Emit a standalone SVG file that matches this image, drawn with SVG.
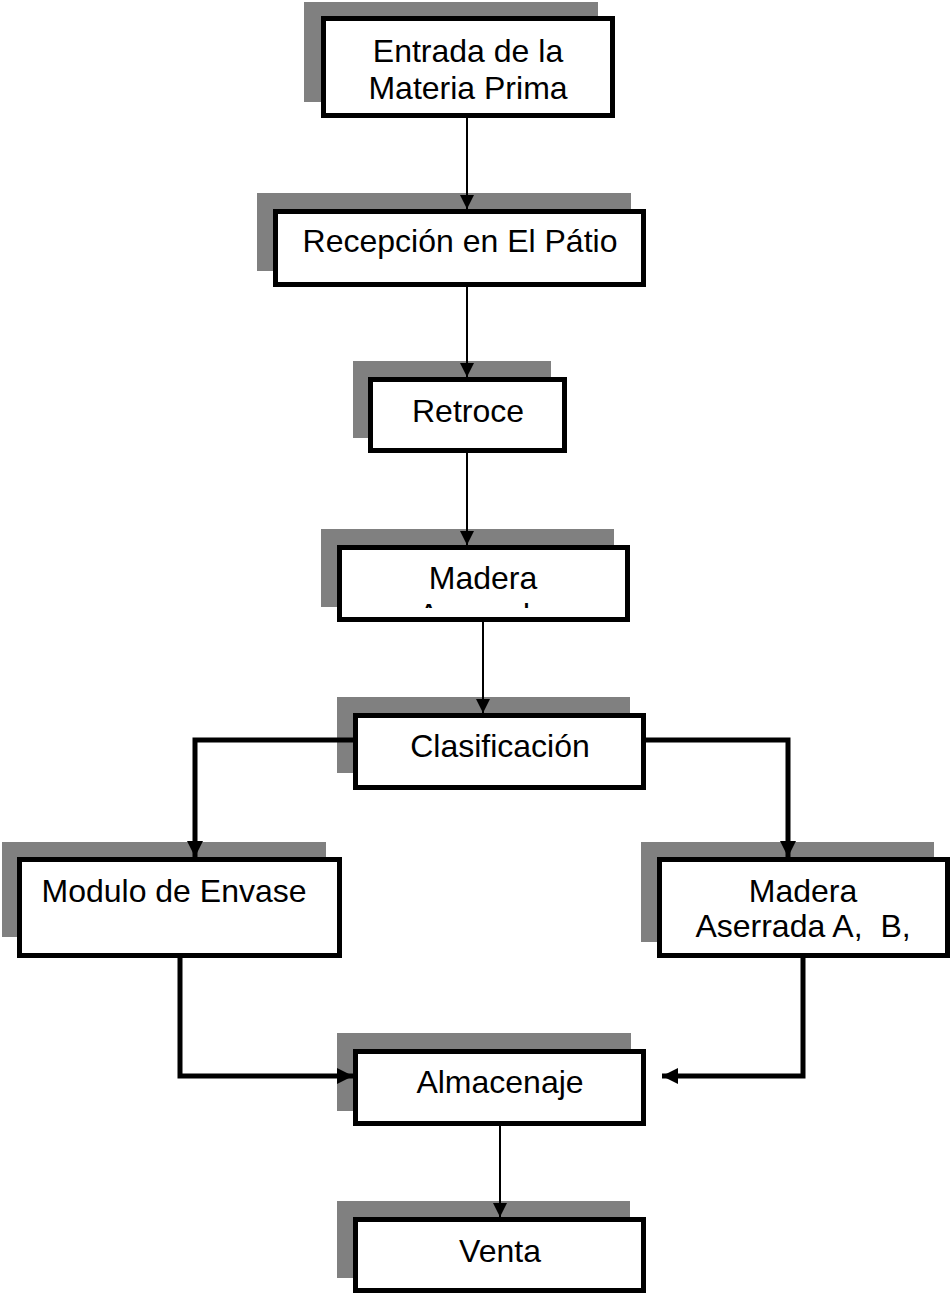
<svg xmlns="http://www.w3.org/2000/svg" width="951" height="1293" viewBox="0 0 951 1293">
<style>
.sh{fill:#808080}
.bx{fill:#fff;stroke:#000;stroke-width:5}
.t{font-family:"Liberation Sans",Arial,sans-serif;font-size:32px;fill:#000;text-anchor:middle}
.thin{fill:none;stroke:#000;stroke-width:2}
.thick{fill:none;stroke:#000;stroke-width:5}
</style>
<defs>
<marker id="a1" markerUnits="userSpaceOnUse" markerWidth="14" markerHeight="15" refX="14" refY="7" orient="auto"><path d="M0,0 L14,7 L0,14 Z" fill="#000"/></marker>
<marker id="a2" markerUnits="userSpaceOnUse" markerWidth="16" markerHeight="17" refX="16" refY="8" orient="auto"><path d="M0,0 L16,8 L0,16 Z" fill="#000"/></marker>
<clipPath id="c4"><rect x="337" y="545" width="293" height="63"/></clipPath>
</defs>
<g id="n1">
<rect class="sh" x="304" y="2" width="294" height="100"/>
<rect class="bx" x="323.5" y="18.5" width="289" height="97"/>
<text class="t" x="468" y="62">Entrada de la</text>
<text class="t" x="468" y="99">Materia Prima</text>
</g>
<g id="n2">
<rect class="sh" x="257" y="193" width="374" height="78"/>
<rect class="bx" x="275.5" y="211.5" width="368" height="73"/>
<text class="t" x="460" y="252">Recepción en El Pátio</text>
</g>
<g id="n3">
<rect class="sh" x="353" y="361" width="198" height="77"/>
<rect class="bx" x="370.5" y="379.5" width="194" height="71"/>
<text class="t" x="468" y="422">Retroce</text>
</g>
<g id="n4">
<rect class="sh" x="321" y="529" width="293" height="78"/>
<rect class="bx" x="339.5" y="547.5" width="288" height="72"/>
<text class="t" x="483" y="589">Madera</text>
<text class="t" x="483" y="626" clip-path="url(#c4)">Aserrada</text>
</g>
<g id="n5">
<rect class="sh" x="337" y="697" width="293" height="76"/>
<rect class="bx" x="355.5" y="715.5" width="288" height="72"/>
<text class="t" x="500" y="757">Clasificación</text>
</g>
<g id="n6">
<rect class="sh" x="2" y="842" width="324" height="95"/>
<rect class="bx" x="19.5" y="859.5" width="320" height="96"/>
<text class="t" x="174" y="902">Modulo de Envase</text>
</g>
<g id="n7">
<rect class="sh" x="641" y="842" width="293" height="100"/>
<rect class="bx" x="659.5" y="859.5" width="288" height="96"/>
<text class="t" x="803" y="902">Madera</text>
<text class="t" x="803" y="937" xml:space="preserve">Aserrada A,  B,</text>
</g>
<g id="n8">
<rect class="sh" x="337" y="1033" width="294" height="78"/>
<rect class="bx" x="355.5" y="1051.5" width="288" height="72"/>
<text class="t" x="500" y="1093">Almacenaje</text>
</g>
<g id="n9">
<rect class="sh" x="337" y="1201" width="293" height="77"/>
<rect class="bx" x="355.5" y="1219.5" width="288" height="71"/>
<text class="t" x="500" y="1262">Venta</text>
</g>
<g id="connectors">
<path class="thin" d="M467,118 V209" marker-end="url(#a1)"/>
<path class="thin" d="M467,287 V377" marker-end="url(#a1)"/>
<path class="thin" d="M467,453 V545" marker-end="url(#a1)"/>
<path class="thin" d="M483,622 V713" marker-end="url(#a1)"/>
<path class="thick" d="M353,740 H195 V857" marker-end="url(#a2)"/>
<path class="thick" d="M646,740 H788 V857" marker-end="url(#a2)"/>
<path class="thick" d="M180,958 V1076 H353" marker-end="url(#a2)"/>
<path class="thick" d="M803,958 V1076 H662" marker-end="url(#a2)"/>
<path class="thin" d="M500,1126 V1217" marker-end="url(#a1)"/>
</g>
</svg>
